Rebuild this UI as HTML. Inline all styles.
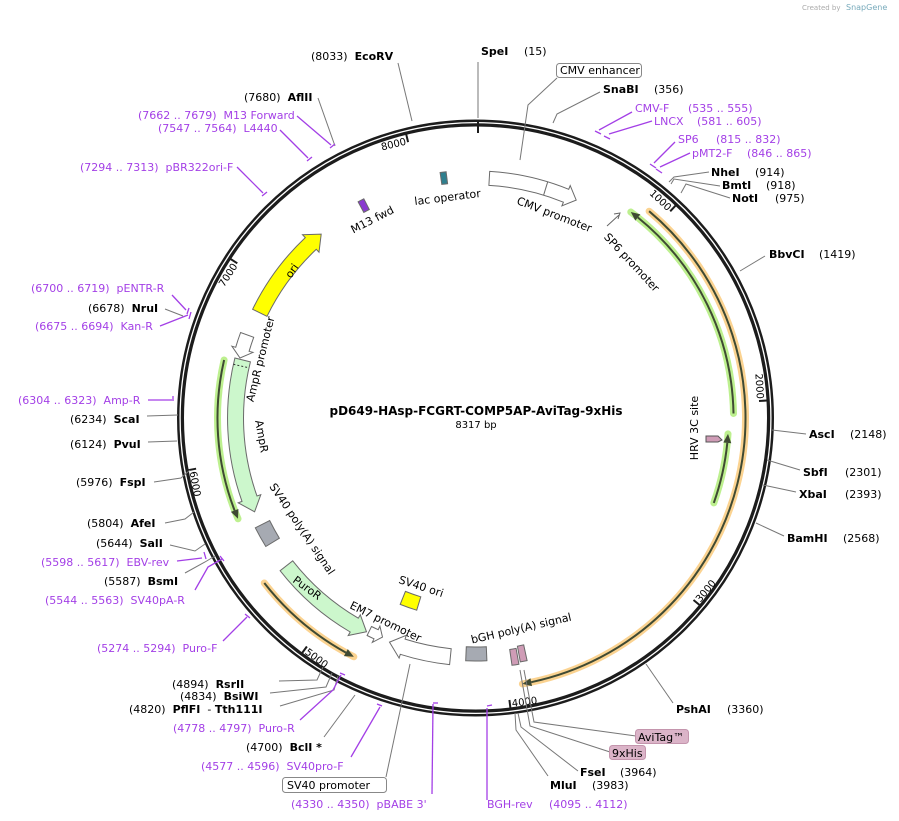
<!DOCTYPE html>
<html><head><meta charset="utf-8"><style>
body{margin:0;background:#fff}
svg{display:block;font-family:"DejaVu Sans","Liberation Sans",sans-serif;font-size:11px}
text{white-space:pre}
.b{font-weight:bold}
.p{fill:#a33fe6}
.pl{stroke:#a33fe6;stroke-width:1.3;fill:none}
.gl{stroke:#777;stroke-width:1;fill:none}
</style></head><body>
<svg id="s" width="899" height="821" viewBox="0 0 899 821" xmlns="http://www.w3.org/2000/svg" xml:space="preserve">
<text x="802" y="10" font-size="7" fill="#aaa">Created by</text><text x="846" y="10" font-size="8" fill="#7ab">SnapGene</text>
<g id="g"></g>
<circle cx="475.5" cy="418" r="295" fill="none" stroke="#1c1c1c" stroke-width="7"/>
<circle cx="475.5" cy="418" r="295.4" fill="none" stroke="#fff" stroke-width="1.3"/>
<g id="ticks" stroke="#1c1c1c" stroke-width="2"></g>
<g font-size="10">
<text id="n1">1000</text><text id="n2">2000</text><text id="n3">3000</text><text id="n4">4000</text>
<text id="n5">5000</text><text id="n6">6000</text><text id="n7">7000</text><text id="n8">8000</text>
</g>
<g id="f"></g>
<path d="M706,436 L718,436 L722,440 L718,442 L706,442 Z" fill="#cf9cb6" stroke="#555" stroke-width="1"/>
<path d="M607,226 L619,215 M614,214 L620,213 L618,219" fill="none" stroke="#666" stroke-width="1"/>
<text x="476" y="415" text-anchor="middle" class="b" font-size="12">pD649-HAsp-FCGRT-COMP5AP-AviTag-9xHis</text>
<text x="476" y="428" text-anchor="middle" font-size="10">8317 bp</text>
<text transform="translate(553,218) rotate(21)" text-anchor="middle">CMV promoter</text>
<text transform="translate(629,265) rotate(47)" text-anchor="middle">SP6 promoter</text>
<text transform="translate(448,201) rotate(-7)" text-anchor="middle">lac operator</text>
<text transform="translate(374,223) rotate(-27)" text-anchor="middle">M13 fwd</text>
<text transform="translate(698,428) rotate(-90)" text-anchor="middle">HRV 3C site</text>
<text transform="translate(522,632) rotate(-13)" text-anchor="middle">bGH poly(A) signal</text>
<text transform="translate(420,590) rotate(18)" text-anchor="middle">SV40 ori</text>
<text transform="translate(384,625) rotate(26)" text-anchor="middle">EM7 promoter</text>
<text transform="translate(305,591) rotate(36)" text-anchor="middle">PuroR</text>
<text transform="translate(299,531) rotate(56)" text-anchor="middle">SV40 poly(A) signal</text>
<text transform="translate(258,437) rotate(80)" text-anchor="middle">AmpR</text>
<text transform="translate(264,360) rotate(-76)" text-anchor="middle">AmpR promoter</text>
<text transform="translate(295,273) rotate(-55)" text-anchor="middle">ori</text>
<g class="gl">
<polyline points="398,63 412,121"/>
<polyline points="478,62 478,118"/>
<polyline points="557,78 528,105 520,160"/>
<polyline points="600,92 557,114 553,123"/>
<polyline points="709,172 674,177 669,182"/>
<polyline points="720,186 674,179 671,184"/>
<polyline points="730,198 686,184 681,193"/>
<polyline points="765,256 740,271"/>
<polyline points="806,434 772,430"/>
<polyline points="800,470 767,460"/>
<polyline points="796,492 763,485"/>
<polyline points="784,536 756,523"/>
<polyline points="673,703 646,664"/>
<polyline points="636,736 534,722 524,670"/>
<polyline points="610,752 530,726 520,670"/>
<polyline points="578,771 521,727 518,713"/>
<polyline points="548,776 516,730 515,713"/>
<polyline points="386,777 410,664"/>
<polyline points="324,737 355,695"/>
<polyline points="279,681 317,680 323,667"/>
<polyline points="270,693 326,687 332,673"/>
<polyline points="280,706 334,690 338,676"/>
<polyline points="318,98 335,146"/>
<polyline points="165,309 183,316"/>
<polyline points="147,416 178,415"/>
<polyline points="148,442 177,441"/>
<polyline points="154,482 181,478 190,470"/>
<polyline points="165,523 185,519 194,512"/>
<polyline points="170,545 195,551 205,544"/>
<polyline points="185,573 205,562 215,556"/>
</g>
<g class="pl">
<polyline points="632,112 599,130"/><line x1="595" y1="131" x2="601" y2="134"/>
<polyline points="652,121 609,134"/><line x1="604" y1="136" x2="610" y2="139"/>
<polyline points="675,142 654,163"/><line x1="650" y1="164" x2="656" y2="168"/>
<polyline points="690,153 660,167"/><line x1="656" y1="169" x2="662" y2="173"/>
<polyline points="237,167 263,193"/><line x1="262" y1="196" x2="267" y2="192"/>
<polyline points="280,130 308,158"/><line x1="307" y1="161" x2="312" y2="157"/>
<polyline points="297,116 331,145"/><line x1="330" y1="148" x2="335" y2="144"/>
<polyline points="172,295 186,310"/><line x1="189" y1="308" x2="187" y2="314"/>
<polyline points="160,326 188,315"/><line x1="191" y1="312" x2="189" y2="319"/>
<polyline points="148,400 172,400"/><line x1="173" y1="396" x2="173" y2="401"/>
<polyline points="177,561 202,558"/><line x1="204" y1="552" x2="206" y2="559"/>
<polyline points="195,590 208,567 222,559"/><line x1="220" y1="556" x2="224" y2="561"/>
<polyline points="223,641 247,617"/><line x1="245" y1="614" x2="250" y2="618"/>
<polyline points="300,720 333,690 341,675"/><line x1="340" y1="673" x2="345" y2="675"/>
<polyline points="351,757 380,707"/><line x1="377" y1="704" x2="382" y2="706"/>
<polyline points="432,794 433,704"/><line x1="433" y1="703" x2="438" y2="703"/>
<polyline points="487,800 487,708"/><line x1="487" y1="706" x2="492" y2="705"/>
</g>
<text x="311" y="60">(8033)  <tspan class="b">EcoRV</tspan></text>
<text x="481" y="55" class="b">SpeI</text><text x="524" y="55">(15)</text>
<rect x="556.5" y="63.5" width="85" height="14" rx="3" fill="#fff" stroke="#888"/>
<text x="560" y="74">CMV enhancer</text>
<text x="603" y="93" class="b">SnaBI</text><text x="654" y="93">(356)</text>
<text x="635" y="112" class="p">CMV-F</text><text x="688" y="112" class="p">(535 .. 555)</text>
<text x="654" y="125" class="p">LNCX</text><text x="697" y="125" class="p">(581 .. 605)</text>
<text x="678" y="143" class="p">SP6</text><text x="716" y="143" class="p">(815 .. 832)</text>
<text x="692" y="157" class="p">pMT2-F</text><text x="747" y="157" class="p">(846 .. 865)</text>
<text x="711" y="176" class="b">NheI</text><text x="755" y="176">(914)</text>
<text x="722" y="189" class="b">BmtI</text><text x="766" y="189">(918)</text>
<text x="732" y="202" class="b">NotI</text><text x="775" y="202">(975)</text>
<text x="769" y="258" class="b">BbvCI</text><text x="819" y="258">(1419)</text>
<text x="809" y="438" class="b">AscI</text><text x="850" y="438">(2148)</text>
<text x="803" y="476" class="b">SbfI</text><text x="845" y="476">(2301)</text>
<text x="799" y="498" class="b">XbaI</text><text x="845" y="498">(2393)</text>
<text x="787" y="542" class="b">BamHI</text><text x="843" y="542">(2568)</text>
<text x="676" y="713" class="b">PshAI</text><text x="727" y="713">(3360)</text>
<rect x="635.5" y="729.5" width="53" height="14" rx="3" fill="#dbb4c8" stroke="#c495ad"/>
<text x="638" y="741">AviTag™</text>
<rect x="609.5" y="745.5" width="36" height="14" rx="3" fill="#dbb4c8" stroke="#c495ad"/>
<text x="612" y="757">9xHis</text>
<text x="580" y="776" class="b">FseI</text><text x="620" y="776">(3964)</text>
<text x="550" y="789" class="b">MluI</text><text x="592" y="789">(3983)</text>
<text x="487" y="808" class="p">BGH-rev</text><text x="549" y="808" class="p">(4095 .. 4112)</text>
<text x="291" y="808" class="p">(4330 .. 4350)  pBABE 3'</text>
<rect x="282.5" y="777.5" width="104" height="15" rx="3" fill="#fff" stroke="#888"/>
<text x="287" y="789">SV40 promoter</text>
<text x="201" y="770" class="p">(4577 .. 4596)  SV40pro-F</text>
<text x="246" y="751">(4700)  <tspan class="b">BclI *</tspan></text>
<text x="173" y="732" class="p">(4778 .. 4797)  Puro-R</text>
<text x="129" y="713">(4820)  <tspan class="b">PflFI</tspan>  - <tspan class="b">Tth111I</tspan></text>
<text x="180" y="700">(4834)  <tspan class="b">BsiWI</tspan></text>
<text x="172" y="688">(4894)  <tspan class="b">RsrII</tspan></text>
<text x="97" y="652" class="p">(5274 .. 5294)  Puro-F</text>
<text x="45" y="604" class="p">(5544 .. 5563)  SV40pA-R</text>
<text x="104" y="585">(5587)  <tspan class="b">BsmI</tspan></text>
<text x="41" y="566" class="p">(5598 .. 5617)  EBV-rev</text>
<text x="96" y="547">(5644)  <tspan class="b">SalI</tspan></text>
<text x="87" y="527">(5804)  <tspan class="b">AfeI</tspan></text>
<text x="76" y="486">(5976)  <tspan class="b">FspI</tspan></text>
<text x="70" y="448">(6124)  <tspan class="b">PvuI</tspan></text>
<text x="70" y="423">(6234)  <tspan class="b">ScaI</tspan></text>
<text x="18" y="404" class="p">(6304 .. 6323)  Amp-R</text>
<text x="35" y="330" class="p">(6675 .. 6694)  Kan-R</text>
<text x="88" y="312">(6678)  <tspan class="b">NruI</tspan></text>
<text x="31" y="292" class="p">(6700 .. 6719)  pENTR-R</text>
<text x="80" y="171" class="p">(7294 .. 7313)  pBR322ori-F</text>
<text x="158" y="132" class="p">(7547 .. 7564)  L4440</text>
<text x="138" y="119" class="p">(7662 .. 7679)  M13 Forward</text>
<text x="244" y="101">(7680)  <tspan class="b">AflII</tspan></text>
<line x1="478" y1="120" x2="478" y2="133" stroke="#1c1c1c" stroke-width="2"/>
<script>
const cx=475.5,cy=418,NS="http://www.w3.org/2000/svg";
function P(r,a){a*=Math.PI/180;return (cx+r*Math.sin(a)).toFixed(1)+","+(cy-r*Math.cos(a)).toFixed(1);}
function A(r,a1,a2){return "A"+r+","+r+" 0 "+(Math.abs(a2-a1)>180?1:0)+" "+(a2>a1?1:0)+" "+P(r,a2);}
function el(par,tag,at){const e=document.createElementNS(NS,tag);for(const k in at)e.setAttribute(k,at[k]);document.getElementById(par).appendChild(e);return e;}
function band(r,w,a1,a2,head,fill,hl){const ro=r+w/2,ri=r-w/2,h=(hl||11)/r*180/Math.PI;let d;
 if(head=="e")d="M"+P(ro,a1)+A(ro,a1,a2-h)+"L"+P(ro+4,a2-h)+"L"+P(r,a2)+"L"+P(ri-4,a2-h)+"L"+P(ri,a2-h)+A(ri,a2-h,a1)+"Z";
 else if(head=="s")d="M"+P(r,a1)+"L"+P(ro+4,a1+h)+"L"+P(ro,a1+h)+A(ro,a1+h,a2)+"L"+P(ri,a2)+A(ri,a2,a1+h)+"L"+P(ri-4,a1+h)+"Z";
 else d="M"+P(ro,a1)+A(ro,a1,a2)+"L"+P(ri,a2)+A(ri,a2,a1)+"Z";
 el("f","path",{d:d,fill:fill,stroke:"#6a6a6a","stroke-width":1});}
function larrow(r,a1,a2,head,glow){const h=9/r*180/Math.PI;let s=a1,e=a2,hb,tip;
 if(head=="e"){e=a2-h;hb=a2-h;tip=a2;}else{s=a1+h;hb=a1+h;tip=a1;}
 el("g","path",{d:"M"+P(r,a1)+A(r,a1,a2),fill:"none",stroke:glow,"stroke-width":7,"stroke-linecap":"round"});
 el("g","path",{d:"M"+P(r,s)+A(r,s,e),fill:"none",stroke:"#3f4a33","stroke-width":2});
 el("g","path",{d:"M"+P(r+4,hb)+"L"+P(r,tip)+"L"+P(r-4,hb)+"Z",fill:"#3f4a33"});}
larrow(270,40,170,"e","#fbd391");
larrow(268,207,232,"s","#fbd391");
larrow(258,37,89,"s","#bdf08f");
larrow(253,93.6,109.6,"s","#bdf08f");
larrow(258,247,283,"s","#bdf08f");
band(240,14,3.3,24.8,"e","#fff");
el("f","path",{d:"M"+P(247,17)+"L"+P(233,17),stroke:"#6a6a6a",fill:"none"});
band(242,12,-8.2,-6.8,0,"#2f7f8e");
band(240,12,-28.5,-27,0,"#8a3bd0");
band(240,16,296,320,"e","#ffff00",14);
band(240,16,247,284,"s","#ccf7cc",14);
el("f","path",{d:"M"+P(248,282.5)+"L"+P(232,282.5),stroke:"#333","stroke-dasharray":"2,2",fill:"none"});
band(243,14,284.3,290,"s","#fff",9);
band(238,16,238.5,243.5,0,"#a6aab2");
band(240,16,207,232,"s","#ccf7cc",14);
band(238,10,203,206.5,"s","#fff",7);
band(240,16,186,201,"e","#fff",14);
band(194,14,197,202,0,"#ffff00");
band(236,14,177.3,182.3,0,"#a6aab2");
band(240,16,168,169.6,0,"#cf9cb6");band(242,16,170,171.6,0,"#cf9cb6");
const ids=[1,2,3,4,5,6,7,8];
for(const k of ids){const a=k*1000/8317*360;
 el("ticks","path",{d:"M"+P(284,a)+"L"+P(292,a)});
 const t=document.getElementById("n"+k);const off=2/282*180/Math.PI;
 if(a<90||a>270){const [x,y]=P(282,a-off).split(",");t.setAttribute("transform","translate("+x+","+y+") rotate("+(a>180?a-360:a)+")");t.setAttribute("text-anchor","end");}
 else{const [x,y]=P(291,a-off).split(",");t.setAttribute("transform","translate("+x+","+y+") rotate("+(a-180)+")");t.setAttribute("text-anchor","start");}}
</script>
</svg>
</body></html>
